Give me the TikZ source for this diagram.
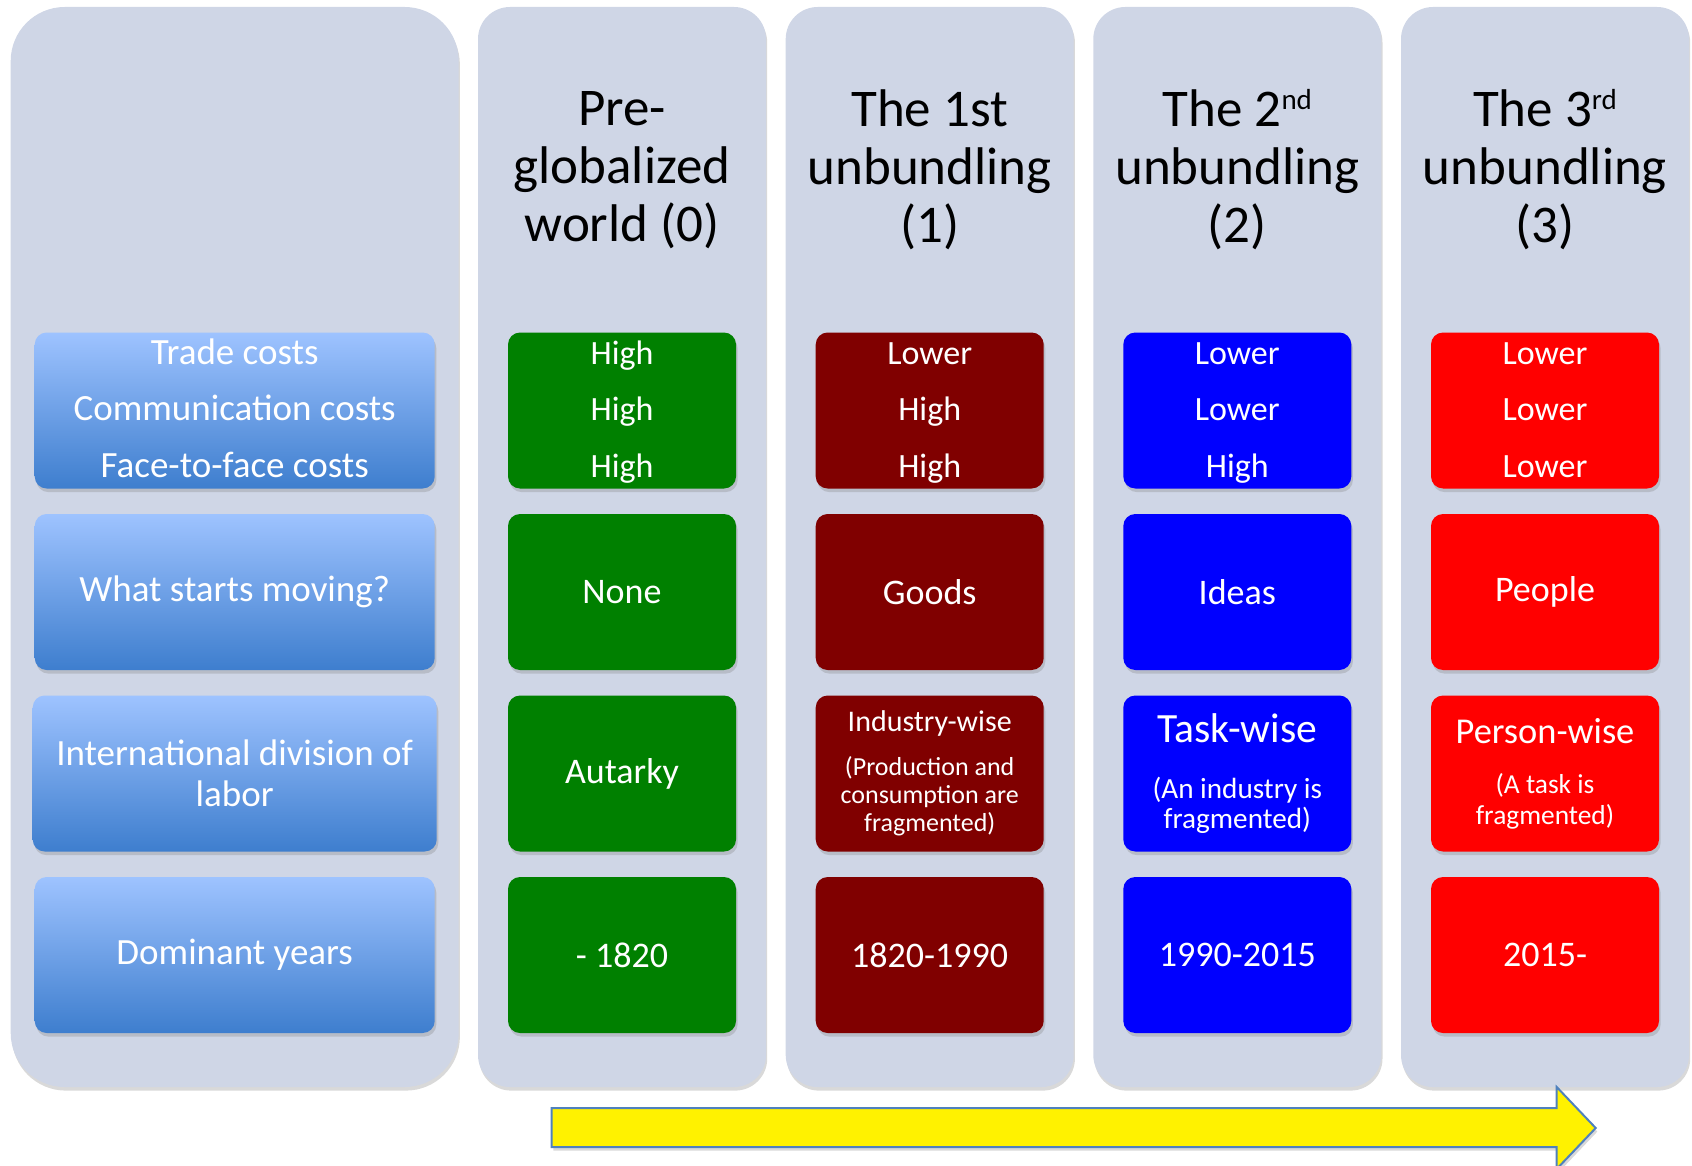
\documentclass[tikz,border=0pt]{standalone}
\usepackage{fontspec}
\setmainfont{Carlito}
\usetikzlibrary{shadows}
\definecolor{panelgray}{RGB}{207,214,230}
\definecolor{greenbox}{RGB}{0,128,0}
\definecolor{maroonbox}{RGB}{128,0,0}
\definecolor{bluebox}{RGB}{0,0,255}
\definecolor{redbox}{RGB}{255,0,0}
\definecolor{labeltop}{RGB}{158,195,255}
\definecolor{labelbottom}{RGB}{62,126,206}
\definecolor{arrowedge}{RGB}{79,129,189}
\newcommand{\supnum}[1]{\raisebox{8.5pt}{\fontsize{14.5}{14.5}\selectfont #1}}
\newcommand{\costtop}{\rule{0pt}{14pt}}
\newcommand{\costbot}{\rule[-3.6pt]{0pt}{3.6pt}}

\begin{document}
\begin{tikzpicture}[x=0.5pt,y=-0.5pt,
    panelbox/.style={fill=panelgray,inner sep=0pt,minimum height=540pt,
        drop shadow={shadow xshift=0.6pt,shadow yshift=-1.8pt,opacity=0.3}},
    heading/.style={align=center,font=\fontsize{26.5}{29}\selectfont}]
    \tikzstyle{labbox}=[top color=labeltop,bottom color=labelbottom,rounded corners=6pt,
        minimum width=200pt,minimum height=78pt,inner sep=1pt,text=white,align=center,
        font=\fontsize{18.5}{20.5}\selectfont,
        drop shadow={shadow xshift=0.8pt,shadow yshift=-1.8pt,opacity=0.3}]
    \tikzstyle{valbox}=[rounded corners=6pt,minimum width=114pt,minimum height=78pt,
        inner sep=1pt,text=white,align=center,font=\fontsize{18}{20}\selectfont,
        drop shadow={shadow xshift=0.8pt,shadow yshift=-1.8pt,opacity=0.3}]
    \tikzstyle{costs}=[font=\fontsize{17}{28.3}\selectfont]
    \tikzstyle{timearrow}=[fill=yellow,draw=arrowedge,line width=1pt,
        drop shadow={shadow xshift=0.8pt,shadow yshift=-1.8pt,opacity=0.3}]

    \useasboundingbox (0,0) rectangle (1692,1166);

    % columns
    \node[panelbox,minimum width=224pt,rounded corners=27pt] (col0) at (234.7,547) {};
    \node[panelbox,minimum width=144pt,rounded corners=16pt] (col1) at (622,547) {};
    \node[panelbox,minimum width=144pt,rounded corners=16pt] (col2) at (929.7,547) {};
    \node[panelbox,minimum width=144pt,rounded corners=16pt] (col3) at (1237.3,547) {};
    \node[panelbox,minimum width=144pt,rounded corners=16pt] (col4) at (1545,547) {};

    % headings
    \node[heading] (head1) at (622,170) {Pre-\\globalized\\world (0)};
    \node[heading] (head2) at (929.7,170) {The 1st\\unbundling\\(1)};
    \node[heading] (head3) at (1237.3,170) {The 2\supnum{nd}\\unbundling\\(2)};
    \node[heading] (head4) at (1545,170) {The 3\supnum{rd}\\unbundling\\(3)};

    % row labels
    \node[labbox,font=\fontsize{18.5}{28.3}\selectfont] (costs) at (234.7,410.5)
        {\costtop Trade costs\\Communication costs\\Face-to-face costs\costbot};
    \node[labbox] (moving) at (234.7,592) {What starts moving?};
    \node[labbox,minimum width=202pt] (division) at (234.7,773.5) {International division of\\labor};
    \node[labbox] (years) at (234.7,955) {Dominant years};

    % pre-globalized world
    \node[valbox,costs,fill=greenbox] (costs0) at (622,410.5) {\costtop High\\High\\High\costbot};
    \node[valbox,fill=greenbox] (moving0) at (622,592) {None};
    \node[valbox,fill=greenbox] (division0) at (622,773.5) {Autarky};
    \node[valbox,fill=greenbox] (years0) at (622,955) {- 1820};

    % 1st unbundling
    \node[valbox,costs,fill=maroonbox] (costs1) at (929.7,410.5) {\costtop Lower\\High\\High\costbot};
    \node[valbox,fill=maroonbox] (moving1) at (929.7,592) {Goods};
    \node[valbox,fill=maroonbox,font=\fontsize{13}{14}\selectfont] (division1) at (929.7,773.5)
        {{\fontsize{15}{15}\selectfont Industry-wise}\\[8pt](Production and\\consumption are\\fragmented)};
    \node[valbox,fill=maroonbox] (years1) at (929.7,955) {1820-1990};

    % 2nd unbundling
    \node[valbox,costs,fill=bluebox] (costs2) at (1237.3,410.5) {\costtop Lower\\Lower\\High\costbot};
    \node[valbox,fill=bluebox] (moving2) at (1237.3,592) {Ideas};
    \node[valbox,fill=bluebox,font=\fontsize{14.6}{15.4}\selectfont] (division2) at (1237.3,773.5)
        {{\fontsize{20.8}{21}\selectfont Task-wise}\\[12.6pt](An industry is\\fragmented)};
    \node[valbox,fill=bluebox] (years2) at (1237.3,955) {1990-2015};

    % 3rd unbundling
    \node[valbox,costs,fill=redbox] (costs3) at (1545,410.5) {\costtop Lower\\Lower\\Lower\costbot};
    \node[valbox,fill=redbox] (moving3) at (1545,592) {People};
    \node[valbox,fill=redbox,font=\fontsize{13.7}{15.5}\selectfont] (division3) at (1545,773.5)
        {{\fontsize{18.2}{18}\selectfont Person-wise}\\[9.5pt](A task is\\fragmented)};
    \node[valbox,fill=redbox] (years3) at (1545,955) {2015-};

    % time arrow
    \draw[timearrow] (551.7,1108) -- (1556.7,1108) -- (1556.7,1087) -- (1595.7,1128)
        -- (1556.7,1169) -- (1556.7,1147) -- (551.7,1147) -- cycle;

\end{tikzpicture}
\end{document}
